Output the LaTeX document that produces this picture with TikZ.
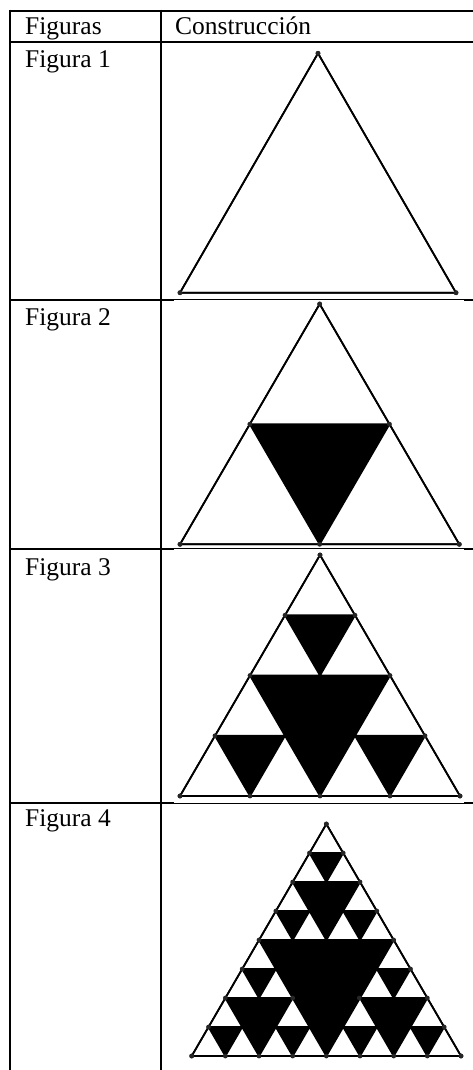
\documentclass[tikz,border=0pt]{standalone}
\usepackage{fontspec}
\setmainfont{Liberation Serif}
\newcommand\sierp[5]{%
  \ifnum#1=0\relax
    \filldraw[whitetri] (#2,#3) -- ++(#4,0) -- ++(-0.5*#4,-#5) -- cycle;
  \else
    {\pgfmathtruncatemacro\slv{#1-1}%
     \pgfmathsetmacro\shw{#4/2}%
     \pgfmathsetmacro\shh{#5/2}%
     \pgfmathsetmacro\sxb{#2+\shw}%
     \pgfmathsetmacro\sxc{#2+\shw/2}%
     \pgfmathsetmacro\syc{#3-\shh}%
     \edef\snext{\noexpand\sierp{\slv}{#2}{#3}{\shw}{\shh}%
       \noexpand\sierp{\slv}{\sxb}{#3}{\shw}{\shh}%
       \noexpand\sierp{\slv}{\sxc}{\syc}{\shw}{\shh}}%
     \snext}%
  \fi}
\newcommand\tridots[5]{%
  \foreach \k in {0,...,#1}{%
    \fill[dotc] ({#2+\k*#4/#1},#3) circle (2.4pt);
    \fill[dotc] ({#2+\k*#4/(2*#1)},{#3-\k*#5/#1}) circle (2.4pt);
    \fill[dotc] ({#2+#4-\k*#4/(2*#1)},{#3-\k*#5/#1}) circle (2.4pt);
  }}
\newcommand\sierpfig[6]{% level, ndots, x, y, w, h
  \fill[black] (#3,#4) -- ++(#5,0) -- ++(-0.5*#5,-#6) -- cycle;
  \sierp{#1}{#3}{#4}{#5}{#6}
  \draw[outline] (#3,#4) -- ++(#5,0) -- ++(-0.5*#5,-#6) -- cycle;
  \tridots{#2}{#3}{#4}{#5}{#6}}
\begin{document}
\begin{tikzpicture}[x=1pt,y=-1pt,
  tableline/.style={line width=2pt},
  thinline/.style={line width=0.7pt},
  whitetri/.style={fill=white,draw=black,line width=1.7pt,line join=round},
  outline/.style={draw=black,line width=1.7pt,line join=round},
  dotc/.style={fill=black!85},
  label/.style={anchor=base west,inner sep=0pt,font=\fontsize{25.5}{28}\selectfont}]
\useasboundingbox (0,0) rectangle (473,1070);
\fill[white] (0,0) rectangle (473,1070);
% table
\draw[tableline] (10,10.7) -- (473,10.7);
\draw[tableline] (10,41.7) -- (473,41.7);
\draw[tableline] (10,9.7) -- (10,1070);
\draw[tableline] (160.7,9.7) -- (160.7,1070);
\foreach \yy in {299.5,548.5,803}{
  \draw[tableline] (9,\yy) -- (174,\yy);
  \draw[thinline] (174,\yy) -- (464,\yy);
  \draw[tableline] (464,\yy) -- (473,\yy);
}
% texts
\node[label] (h1) at (25,35) {Figuras};
\node[label] (h2) at (175,35) {Construcción};
\node[label] (f1) at (25,67.5) {Figura 1};
\node[label] (f2) at (25,325.7) {Figura 2};
\node[label] (f3) at (25,575) {Figura 3};
\node[label] (f4) at (25,826) {Figura 4};
% figures
\sierpfig{0}{1}{180}{292.7}{276}{239.4}
\sierpfig{1}{2}{180}{544.3}{279.3}{240.3}
\sierpfig{2}{4}{180}{796}{280}{241}
\sierpfig{3}{8}{191.7}{1056}{269.3}{232}
\fill[dotc] (292.7,998) circle (2.4pt);
\fill[dotc] (359.3,998) circle (2.4pt);
\end{tikzpicture}
\end{document}
